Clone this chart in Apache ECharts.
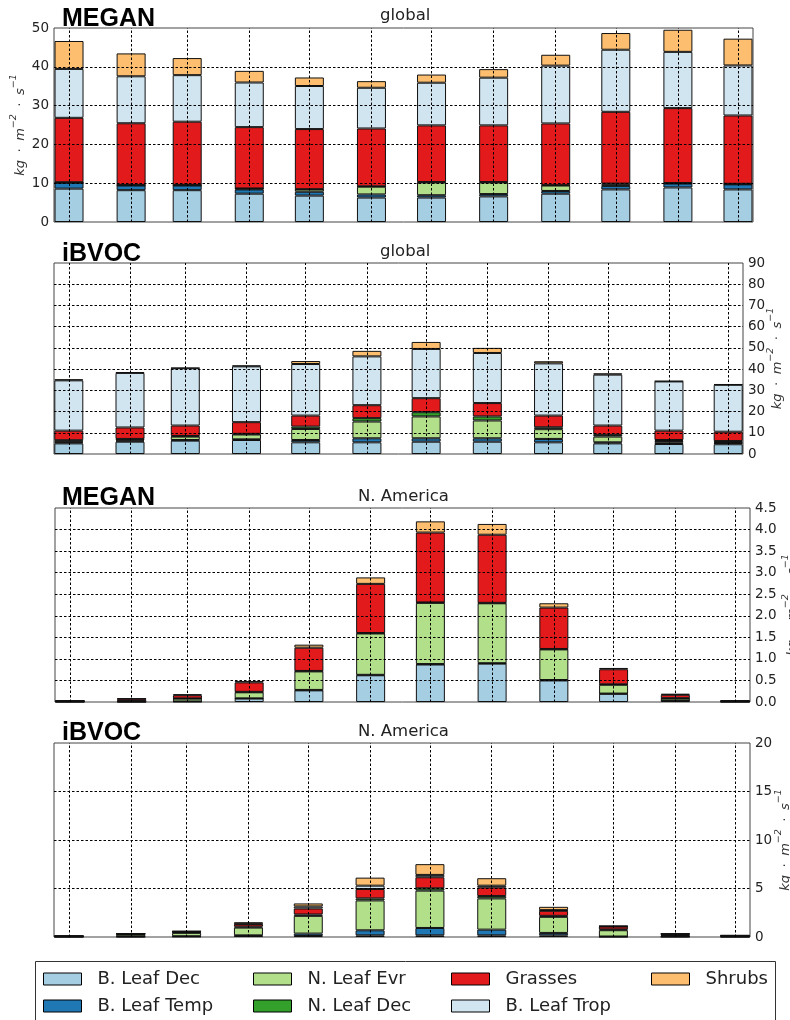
<!DOCTYPE html>
<html><head><meta charset="utf-8">
<script src="https://cdn.jsdelivr.net/npm/echarts@6/dist/echarts.min.js"></script>
<style>html,body{margin:0;padding:0;background:#fff}#c{width:790px;height:1020px}</style>
</head><body><div id="c"></div>
<script>
// Bar positions: day of year of each month tick (Jan..Dec)
const months = ['Jan','Feb','Mar','Apr','May','Jun','Jul','Aug','Sep','Oct','Nov','Dec'];
const monthDay = [0,31,59,90,120,151,181,212,243,273,304,334];
const dayFirst = -7, dayLast = 341;   // x-axis extent in days
const seriesNames = ['B. Leaf Dec','B. Leaf Temp','N. Leaf Evr','N. Leaf Dec','Grasses','B. Leaf Trop','Shrubs'];

// Panel 1: MEGAN global
const mgDec   = [8.6,8.2,8.2,7.3,6.8,6.3,6.3,6.6,7.3,8.4,8.9,8.4];
const mgTemp  = [1.5,1.2,1.2,1.1,1.0,0.8,0.6,0.6,0.7,0.9,1.0,1.3];
const mgEvr   = [0.1,0.1,0.1,0.2,0.6,2.0,3.3,3.0,1.4,0.4,0.1,0.1];
const mgNDec  = [0.05,0.05,0.05,0.05,0.05,0.1,0.1,0.1,0.1,0.2,0.05,0.05];
const mgGrass = [16.6,15.9,16.3,15.8,15.5,14.9,14.6,14.6,15.9,18.5,19.3,17.6];
const mgTrop  = [12.6,12.1,12.0,11.5,11.1,10.5,11.0,12.3,14.9,16.0,14.5,12.9];
const mgShrub = [7.2,5.9,4.4,3.0,2.2,1.7,2.1,2.2,2.8,4.3,5.7,6.9];

// Panel 2: iBVOC global
const igDec   = [5.0,5.8,6.3,6.6,5.5,5.5,5.8,5.8,5.5,5.0,4.7,4.6];
const igTemp  = [0.5,0.5,0.3,0.3,1.1,1.9,1.6,1.6,1.6,0.5,0.6,0.6];
const igEvr   = [0.4,0.5,1.6,2.3,5.2,7.9,10.3,8.4,4.6,2.7,0.8,0.3];
const igNDec  = [0.6,0.3,0.3,0.3,1.1,1.6,2.0,1.9,0.9,0.8,0.5,0.6];
const igGrass = [4.5,5.4,4.9,5.5,5.2,6.1,6.6,6.3,5.5,4.4,4.4,4.4];
const igTrop  = [23.7,25.7,27.0,26.3,24.3,23.0,23.2,23.6,24.6,24.0,23.2,22.1];
const igShrub = [0.5,0.4,0.2,0.4,1.4,2.6,3.3,2.4,1.0,0.6,0.2,0.3];

// Panel 3: MEGAN N. America
const mnDec   = [0.005,0.005,0.01,0.08,0.27,0.62,0.87,0.89,0.50,0.19,0.03,0.005];
const mnTemp  = [0.002,0.002,0.003,0.005,0.01,0.01,0.01,0.01,0.01,0.005,0.003,0.002];
const mnEvr   = [0.01,0.015,0.065,0.14,0.43,0.96,1.42,1.39,0.71,0.205,0.05,0.01];
const mnNDec  = [0.002,0.003,0.005,0.01,0.01,0.01,0.01,0.01,0.01,0.01,0.005,0.002];
const mnGrass = [0.01,0.05,0.075,0.22,0.54,1.14,1.62,1.58,0.96,0.35,0.08,0.01];
const mnTrop  = [0,0,0,0,0,0,0,0,0,0,0,0];
const mnShrub = [0.002,0.005,0.02,0.03,0.07,0.15,0.26,0.25,0.10,0.03,0.02,0.002];

// Panel 4: iBVOC N. America
const inDec   = [0.02,0.03,0.05,0.1,0.1,0.17,0.17,0.17,0.17,0.03,0.03,0.02];
const inTemp  = [0.01,0.02,0.03,0.07,0.25,0.52,0.76,0.59,0.25,0.02,0.02,0.01];
const inEvr   = [0.03,0.2,0.35,0.8,1.83,3.08,3.85,3.22,1.66,0.65,0.1,0.05];
const inNDec  = [0.02,0.05,0.05,0.1,0.14,0.21,0.24,0.24,0.10,0.08,0.05,0.03];
const inGrass = [0.01,0.03,0.08,0.25,0.62,0.97,1.14,0.90,0.52,0.3,0.1,0.04];
const inTrop  = [0.005,0.01,0.02,0.05,0.21,0.34,0.24,0.17,0.07,0.03,0.02,0.01];
const inShrub = [0.005,0.01,0.02,0.15,0.31,0.83,1.11,0.77,0.34,0.03,0.03,0.01];

// Tick labels
const yTicks1 = [0,10,20,30,40,50];
const yTicks2 = [0,10,20,30,40,50,60,70,80,90];
const yTicks3 = [0,0.5,1.0,1.5,2.0,2.5,3.0,3.5,4.0,4.5];
const yTicks4 = [0,5,10,15,20];

const panelTitles = ['global','global','N. America','N. America'];
const modelNames = ['MEGAN','iBVOC','MEGAN','iBVOC'];

const legendCols = [['B. Leaf Dec','B. Leaf Temp'],['N. Leaf Evr','N. Leaf Dec'],['Grasses','B. Leaf Trop'],['Shrubs']];

// ---- styling / layout ----
const colors = ['#a6cee3','#1f78b4','#b2df8a','#33a02c','#e31a1c','#d1e5f0','#fdbf6f'];
const panels = [
  {data:[mgDec,mgTemp,mgEvr,mgNDec,mgGrass,mgTrop,mgShrub], ticks:yTicks1, grid:{left:54,top:28,width:699,height:194}, side:'left', gap:27, dec:0, tl:380, tt:7, mt:7},
  {data:[igDec,igTemp,igEvr,igNDec,igGrass,igTrop,igShrub], ticks:yTicks2, grid:{left:54,top:263,width:689,height:191}, side:'right', gap:23, dec:0, tl:380, tt:243, mt:242},
  {data:[mnDec,mnTemp,mnEvr,mnNDec,mnGrass,mnTrop,mnShrub], ticks:yTicks3, grid:{left:55,top:508,width:695,height:194}, side:'right', gap:31, dec:1, tl:358, tt:488, mt:486},
  {data:[inDec,inTemp,inEvr,inNDec,inGrass,inTrop,inShrub], ticks:yTicks4, grid:{left:54,top:743,width:696,height:194}, side:'right', gap:24, dec:0, tl:358, tt:723, mt:721}
];

// day categories for the x axis (one slot per day)
const dayCats = [];
for (let d = dayFirst; d <= dayLast; d++) dayCats.push(String(d));

const unitName = '{i|kg} {n| · } {i|m}{s|−2} {n| · } {i|s}{s|−1}';
const unitRich = {
  i:{fontFamily:'DejaVu Sans', fontStyle:'italic', fontSize:13, color:'#333', lineHeight:18, verticalAlign:'bottom'},
  n:{fontFamily:'DejaVu Sans', fontSize:13, color:'#333', lineHeight:18, verticalAlign:'bottom'},
  s:{fontFamily:'DejaVu Sans', fontStyle:'italic', fontSize:9.5, color:'#333', lineHeight:18, verticalAlign:'top'}
};

const grids = [], xAxes = [], yAxes = [], series = [], titles = [];
panels.forEach((p, pi) => {
  grids.push(Object.assign({show:true, borderColor:'#444', borderWidth:1, backgroundColor:'transparent', outerBoundsMode:'none', containLabel:false}, p.grid));
  xAxes.push({gridIndex:pi, type:'category', data:dayCats, boundaryGap:true,
    axisLine:{show:false}, axisTick:{show:false}, axisLabel:{show:false}, splitLine:{show:false}});
  const t = p.ticks;
  yAxes.push({gridIndex:pi, type:'value', min:t[0], max:t[t.length-1], interval:t[1]-t[0], position:p.side,
    axisLine:{show:false}, axisTick:{show:false}, splitLine:{show:false},
    axisLabel:{color:'#222', fontSize:13.5, fontFamily:'DejaVu Sans', margin:5,
      formatter:(v)=>v.toFixed(p.dec)},
    name:unitName, nameLocation:'middle', nameGap:p.gap, nameRotate:90, nameMoveOverlap:false,
    nameTextStyle:{rich:unitRich}});
  titles.push({text:modelNames[pi], left:62, top:p.mt, padding:0,
    textStyle:{fontFamily:'Liberation Sans', fontWeight:'bold', fontSize:25, color:'#000'}});
  titles.push({text:panelTitles[pi], left:p.tl, top:p.tt, padding:0,
    textStyle:{fontFamily:'DejaVu Sans', fontWeight:'normal', fontSize:16.5, color:'#222'}});
  p.data.forEach((vals, si) => {
    const arr = dayCats.map(()=>'-');
    vals.forEach((v,i)=>{ arr[monthDay[i]-dayFirst] = v>0 ? v : '-'; });
    const s = {
      name:seriesNames[si], type:'bar', stack:'panel'+pi, xAxisIndex:pi, yAxisIndex:pi,
      barWidth:29, data:arr,
      itemStyle:{color:colors[si], borderColor:'#111', borderWidth:1},
      emphasis:{disabled:true}, animation:false
    };
    if (si === 6) {
      s.markLine = {silent:true, symbol:['none','none'], label:{show:false}, animation:false,
        lineStyle:{color:'#000', type:[2.5,2], width:1},
        emphasis:{disabled:true},
        data:[...monthDay.map(d=>({xAxis:String(d)})), ...t.slice(1,-1).map(v=>({yAxis:v}))]};
    }
    series.push(s);
  });
});

const legendLeft = [43,253,451,651];
const legends = legendCols.map((col, ci) => ({
  data:col, orient:'vertical', left:legendLeft[ci], top:970, padding:0,
  itemWidth:38, itemHeight:12, itemGap:9, icon:'rect', selectedMode:false,
  itemStyle:{borderColor:'#000', borderWidth:1},
  textStyle:{fontSize:18, fontFamily:'DejaVu Sans', color:'#222', lineHeight:18, padding:[0,0,0,11]}
}));

const chart = echarts.init(document.getElementById('c'), null, {renderer:'canvas'});
chart.setOption({
  animation:false,
  backgroundColor:'#fff',
  title:titles,
  grid:grids, xAxis:xAxes, yAxis:yAxes, series:series, legend:legends,
  graphic:[{type:'rect', shape:{x:35.5, y:961.5, width:740, height:80}, style:{fill:'none', stroke:'#333', lineWidth:1}, z:-1, silent:true}]
});
</script></body></html>
